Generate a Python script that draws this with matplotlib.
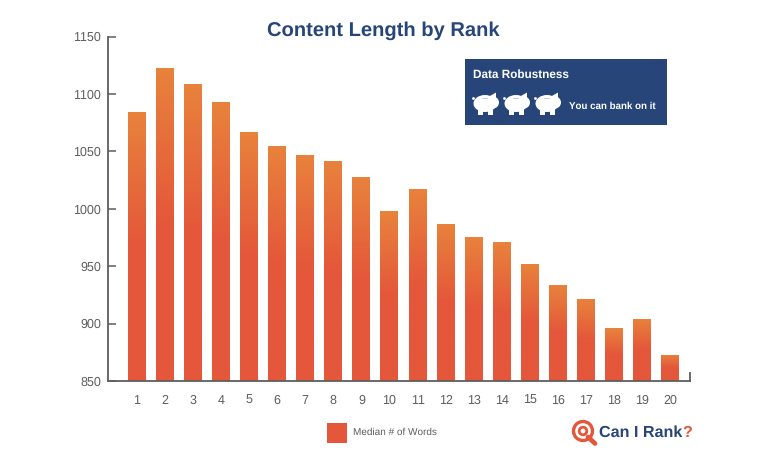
import matplotlib
matplotlib.use("Agg")
import matplotlib.pyplot as plt
from matplotlib.colors import LinearSegmentedColormap
from matplotlib.patches import Rectangle, Circle, Ellipse, Polygon
import numpy as np

plt.rcParams['font.family'] = ['Liberation Sans', 'DejaVu Sans']
plt.rcParams['text.hinting'] = 'none'
plt.rcParams['text.kerning_factor'] = 6

ranks = list(range(1, 21))
words = [1084, 1123, 1109, 1093, 1067, 1055, 1047, 1042, 1028, 998,
         1017, 987, 975, 971, 952, 934, 921, 896, 904, 873]
y_ticks = [850, 900, 950, 1000, 1050, 1100, 1150]

NAVY = '#274579'
RED = '#E4573A'
GREY = '#5E5E60'
W, H = 768, 450

fig = plt.figure(figsize=(W / 100, H / 100), dpi=100)
ax = fig.add_axes([108 / W, 1 - 381 / H, (690 - 108) / W, (381 - 36.5) / H])

step = (670 - 137) / 19
xlim = (1 - (137 - 108) / step, 1 + (690 - 137) / step)

# bars get a top to bottom gradient, clipped to each rect
cmap = LinearSegmentedColormap.from_list('bar', [RED, RED, '#E8823C'])
grad = np.linspace(0, 1, 100).reshape(-1, 1)
bars = ax.bar(ranks, words, width=18 / step, color=RED, linewidth=0)
for b in bars:
    x0, x1 = b.get_x(), b.get_x() + b.get_width()
    im = ax.imshow(grad, extent=(x0, x1, 850, b.get_height()), origin='lower',
                   cmap=cmap, aspect='auto', zorder=2)
    im.set_clip_path(b)
ax.set_xlim(xlim)
ax.set_ylim(850, 1150)

ax.spines['top'].set_visible(False)
for s in ['left', 'bottom', 'right']:
    ax.spines[s].set_color(GREY)
    ax.spines[s].set_linewidth(1.3)
ax.spines['right'].set_bounds(850, 857)

ax.set_xticks(ranks)
ax.set_yticks(y_ticks)
ax.tick_params(axis='x', length=0, pad=9.5, labelsize=9, labelcolor=GREY)
ax.tick_params(axis='y', direction='in', length=6, width=1.1, color=GREY,
               pad=5, labelsize=9, labelcolor=GREY)

# overlay in pixel coords for title box, legend and logo
ov = fig.add_axes([0, 0, 1, 1], facecolor='none')
ov.set_xlim(0, W)
ov.set_ylim(H, 0)
ov.axis('off')

ov.text(383.5, 31, 'Content Length by Rank', ha='center', va='center',
        fontsize=14.5, fontweight='bold', color=NAVY)

ov.add_patch(Rectangle((464.5, 58.5), 202.5, 66.5, color=NAVY, lw=0))
ov.text(473, 75, 'Data Robustness', va='center', fontsize=8.5,
        fontweight='bold', color='white')
ov.text(569, 106.5, 'You can bank on it', va='center', fontsize=7,
        fontweight='bold', color='white')


def pig(cx, cy):
    ov.add_patch(Ellipse((cx - 1, cy), 23, 17, color='white', lw=0))
    ov.add_patch(Ellipse((cx + 7, cy - 1), 12, 12, color='white', lw=0))
    ov.add_patch(Polygon([(cx + 3, cy - 7), (cx + 10, cy - 11), (cx + 10, cy - 3)],
                         color='white', lw=0))
    ov.add_patch(Rectangle((cx - 8, cy + 4), 5, 7, color='white', lw=0))
    ov.add_patch(Rectangle((cx + 2, cy + 4), 5, 7, color='white', lw=0))
    ov.add_patch(Circle((cx - 12.5, cy - 5), 1.4, color='white', lw=0))
    ov.plot([cx - 4, cx + 1], [cy - 6, cy - 6], color='#B9C3D6', lw=0.6)


for cx in [486, 517, 548]:
    pig(cx, 103.5)

# legend
ov.add_patch(Rectangle((326.5, 423), 20, 20, color=RED, lw=0))
ov.text(353, 432.5, 'Median # of Words', va='center', fontsize=7.2, color=GREY)

# logo
ov.add_patch(Circle((583, 431), 9.5, fill=False, ec=RED, lw=2.4))
ov.add_patch(Circle((583, 431), 3.8, fill=False, ec=RED, lw=2))
ov.plot([588, 595], [437, 443.5], color=RED, lw=3.4, solid_capstyle='round')
ov.text(599, 433, 'Can I Rank', va='center', fontsize=11.6, fontweight='bold', color=NAVY)
ov.text(692, 433, '?', va='center', ha='right', fontsize=11.6, fontweight='bold', color=RED)

fig.savefig('out.png', dpi=100)
